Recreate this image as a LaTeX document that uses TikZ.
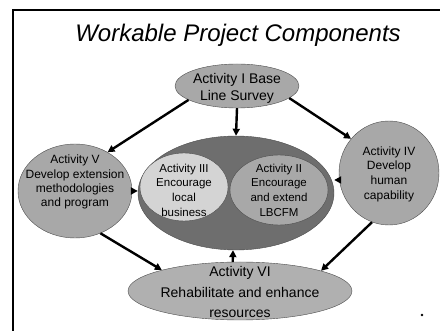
\documentclass[tikz,border=0pt]{standalone}
\usepackage{fontspec}
\setmainfont{Liberation Sans}
\usetikzlibrary{shapes.geometric,arrows.meta}

\tikzset{
	act/.style={ellipse, draw=black!70, thin, fill=black!34, inner sep=0pt},
	txt/.style={align=center, inner sep=0pt, font=\fontsize{12}{14.2}\selectfont},
	link/.style={-{Triangle[length=7pt,width=7pt]}, line width=2.4pt},
}

\begin{document}
\begin{tikzpicture}[x=1pt,y=-1pt]
	\useasboundingbox (0,0) rectangle (440,331);
	\draw[line width=2.6pt] (13,10) rectangle (470,360);
	\node[font=\fontsize{24}{28}\selectfont\itshape] (title) at (238,35) {Workable Project Components};
	
	% the ring that holds II and III
	\node[act, fill=black!57, minimum width=196pt, minimum height=114pt] (core) at (236,193) {};
	\node[act, fill=black!17, minimum width=88pt, minimum height=68pt] (act3) at (184,187) {};
	\node[act, minimum width=98pt, minimum height=70pt] (act2) at (279,190) {};
	\node[txt, font=\fontsize{11.5}{14.7}\selectfont] (act3txt) at (184,190) {Activity III\\Encourage\\local\\business};
	\node[txt, font=\fontsize{11.5}{14.7}\selectfont] (act2txt) at (279,190) {Activity II\\Encourage\\and extend\\LBCFM};
	
	\node[act, minimum width=124pt, minimum height=44pt] (act1) at (237,86) {};
	\node[txt, font=\fontsize{14}{17}\selectfont] (act1txt) at (237,88) {Activity I Base\\Line Survey};
	
	\node[act, minimum width=114pt, minimum height=94pt] (act5) at (75,191) {};
	\node[txt] (act5txt) at (75,182) {Activity V\\Develop extension\\methodologies\\and program};
	
	\node[act, minimum width=100pt, minimum height=104pt] (act4) at (389,173) {};
	\node[txt, font=\fontsize{12}{14.7}\selectfont] (act4txt) at (389,174) {Activity IV\\Develop\\human\\capability};
	
	\node[act, fill=black!31, minimum width=224pt, minimum height=58pt] (act6) at (240,291) {};
	\node[txt, font=\fontsize{14}{20.5}\selectfont] (act6txt) at (240,292) {Activity VI\\Rehabilitate and enhance\\resources};
	
	\draw[link] (act1.south) -- (core.north);
	\draw[link] (act1.-164) -- (act5.50);
	\draw[link] (act1.-13) -- (act4.138);
	\draw[link] (act5.east) -- (core.west |- act5.east);
	\draw[link] (act4.188) -- (core.east |- act4.188);
	\draw[link] (act5.-59) -- (act6.165);
	\draw[link] (act4.-109) -- (act6.14);
	\draw[link] (act6.104) -- (core.267);
	
	\fill (422,315) circle (1.4);
\end{tikzpicture}
\end{document}
